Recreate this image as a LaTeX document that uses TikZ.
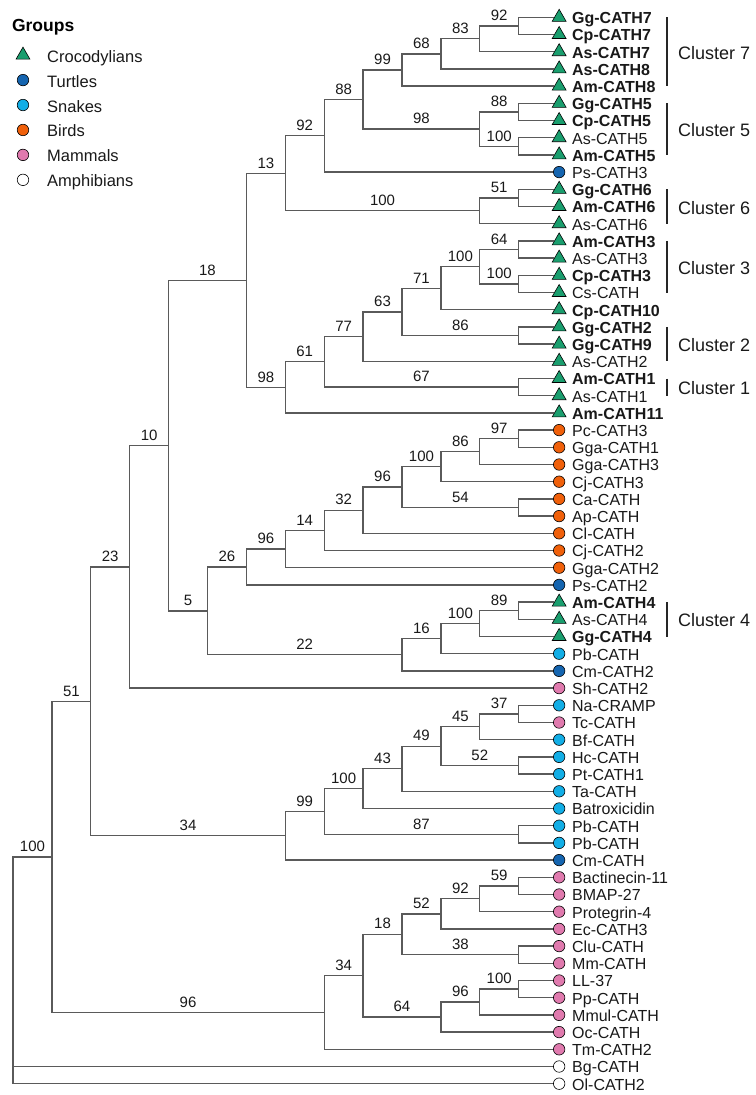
\documentclass[tikz,border=0pt]{standalone}
\usepackage{fontspec}
\setmainfont{Liberation Sans}
\usepackage{xcolor}
\usepackage{tikz}
\usetikzlibrary{positioning, shapes.geometric}

\definecolor{crocgreen}{HTML}{1A9E6E}
\definecolor{turtblue}{HTML}{1565B0}
\definecolor{snakeblue}{HTML}{12AEE6}
\definecolor{birdorange}{HTML}{F0600A}
\definecolor{mammpink}{HTML}{E07AAE}
\definecolor{treegray}{HTML}{5A5A5A}

\begin{document}
\begin{tikzpicture}[
    x=38.9pt, y=-17.2pt,
    branch/.style={draw=treegray, line width=1.3pt},
    boot/.style={pos=0.75, above=3pt, inner sep=1.5pt, text=black!90, font=\fontsize{15}{17}\selectfont},
    grpcroc/.style={regular polygon, regular polygon sides=3, draw=black, line width=0.6pt, fill=crocgreen, minimum size=16pt, inner sep=0pt},
    leafdot/.style={circle, draw=black, line width=0.6pt, minimum size=11.5pt, inner sep=0pt},
    grpturt/.style={leafdot, fill=turtblue},
    grpsnake/.style={leafdot, fill=snakeblue},
    grpbird/.style={leafdot, fill=birdorange},
    grpmamm/.style={leafdot, fill=mammpink},
    grpamph/.style={leafdot, fill=white},
    tipbold/.style={anchor=base west, inner sep=0pt, yshift=-6.3pt, text=black!90, font=\fontsize{16}{18}\selectfont\bfseries},
    tipplain/.style={anchor=base west, inner sep=0pt, yshift=-6.3pt, text=black!90, font=\fontsize{16}{18}\selectfont},
    clusbar/.style={draw=black!85, line width=1.3pt},
    clus/.style={anchor=base west, inner sep=0pt, yshift=-7.5pt, text=black!90, font=\fontsize{18}{20}\selectfont},
    legtext/.style={anchor=base west, inner sep=0pt, yshift=-7pt, text=black!90, font=\fontsize{16.5}{18}\selectfont}
]
\useasboundingbox (-0.334,-0.006) rectangle (19.100,63.657);

% legend
\node[anchor=base west, inner sep=0pt, font=\fontsize{17.5}{19}\selectfont\bfseries] (groups) at (-0.03,1.843) {Groups};
\foreach \grp/\txt [count=\k] in {grpcroc/Crocodylians, grpturt/Turtles, grpsnake/Snakes,
    grpbird/Birds, grpmamm/Mammals, grpamph/Amphibians} {
  \node[\grp] (leg\k) at (0.257,{1.75+1.45*\k}) {};
  \node[legtext] (legt\k) at (0.874,{1.75+1.45*\k}) {\txt};
}

% leaves
\foreach \lab/\grp/\wt [count=\i] in {
    Gg-CATH7/grpcroc/bold, Cp-CATH7/grpcroc/bold, As-CATH7/grpcroc/bold, As-CATH8/grpcroc/bold,
    Am-CATH8/grpcroc/bold, Gg-CATH5/grpcroc/bold, Cp-CATH5/grpcroc/bold, As-CATH5/grpcroc/plain,
    Am-CATH5/grpcroc/bold, Ps-CATH3/grpturt/plain, Gg-CATH6/grpcroc/bold, Am-CATH6/grpcroc/bold,
    As-CATH6/grpcroc/plain, Am-CATH3/grpcroc/bold, As-CATH3/grpcroc/plain, Cp-CATH3/grpcroc/bold,
    Cs-CATH/grpcroc/plain, Cp-CATH10/grpcroc/bold, Gg-CATH2/grpcroc/bold, Gg-CATH9/grpcroc/bold,
    As-CATH2/grpcroc/plain, Am-CATH1/grpcroc/bold, As-CATH1/grpcroc/plain, Am-CATH11/grpcroc/bold,
    Pc-CATH3/grpbird/plain, Gga-CATH1/grpbird/plain, Gga-CATH3/grpbird/plain, Cj-CATH3/grpbird/plain,
    Ca-CATH/grpbird/plain, Ap-CATH/grpbird/plain, Cl-CATH/grpbird/plain, Cj-CATH2/grpbird/plain,
    Gga-CATH2/grpbird/plain, Ps-CATH2/grpturt/plain, Am-CATH4/grpcroc/bold, As-CATH4/grpcroc/plain,
    Gg-CATH4/grpcroc/bold, Pb-CATH/grpsnake/plain, Cm-CATH2/grpturt/plain, Sh-CATH2/grpmamm/plain,
    Na-CRAMP/grpsnake/plain, Tc-CATH/grpmamm/plain, Bf-CATH/grpsnake/plain, Hc-CATH/grpsnake/plain,
    Pt-CATH1/grpsnake/plain, Ta-CATH/grpsnake/plain, Batroxicidin/grpsnake/plain, Pb-CATH/grpsnake/plain,
    Pb-CATH/grpsnake/plain, Cm-CATH/grpturt/plain, Bactinecin-11/grpmamm/plain, BMAP-27/grpmamm/plain,
    Protegrin-4/grpmamm/plain, Ec-CATH3/grpmamm/plain, Clu-CATH/grpmamm/plain, Mm-CATH/grpmamm/plain,
    LL-37/grpmamm/plain, Pp-CATH/grpmamm/plain, Mmul-CATH/grpmamm/plain, Oc-CATH/grpmamm/plain,
    Tm-CATH2/grpmamm/plain, Bg-CATH/grpamph/plain, Ol-CATH2/grpamph/plain} {
  \node[\grp] (t\i) at (14.04,\i) {};
  \node[tip\wt] (lab\i) at (14.37,\i) {\lab};
}

% internal nodes: (depth, row)
\coordinate (root) at (0,56.4);
\coordinate (n100) at (1,49.814);
\coordinate (n51) at (2,40.768);
\coordinate (n23) at (3,32.951);
\coordinate (n10) at (4,25.901);
\coordinate (n5) at (5,35.510);
\coordinate (c18) at (6,16.293);
\coordinate (c13) at (7,10.070);
\coordinate (c92) at (8,7.891);
\coordinate (c88) at (9,5.781);
\coordinate (c99) at (10,4.063);
\coordinate (c68) at (11,3.125);
\coordinate (c83) at (12,2.25);
\coordinate (c92a) at (13,1.5);
\coordinate (c98b) at (12,7.5);
\coordinate (c88b) at (13,6.5);
\coordinate (c100b) at (13,8.5);
\coordinate (c100a) at (12,12.25);
\coordinate (c51) at (13,11.5);
\coordinate (c98) at (7,22.516);
\coordinate (c61) at (8,21.031);
\coordinate (c77) at (9,19.563);
\coordinate (c63) at (10,18.125);
\coordinate (c71) at (11,16.75);
\coordinate (c100c) at (12,15.5);
\coordinate (c64) at (13,14.5);
\coordinate (c100d) at (13,16.5);
\coordinate (c86) at (13,19.5);
\coordinate (c67) at (13,22.5);
\coordinate (b26) at (6,32.957);
\coordinate (b96a) at (7,31.914);
\coordinate (b14) at (8,30.828);
\coordinate (b32) at (9,29.656);
\coordinate (b96) at (10,28.313);
\coordinate (b100) at (11,27.125);
\coordinate (b86) at (12,26.25);
\coordinate (b97) at (13,25.5);
\coordinate (b54) at (13,29.5);
\coordinate (k22) at (10,38.063);
\coordinate (k16) at (11,37.125);
\coordinate (k100) at (12,36.25);
\coordinate (k89) at (13,35.5);
\coordinate (n34) at (7,48.586);
\coordinate (s99) at (8,47.172);
\coordinate (s100) at (9,45.844);
\coordinate (s43) at (10,44.688);
\coordinate (s49) at (11,43.375);
\coordinate (s45) at (12,42.25);
\coordinate (s37) at (13,41.5);
\coordinate (s52) at (13,44.5);
\coordinate (s87) at (13,48.5);
\coordinate (m96a) at (8,58.859);
\coordinate (m34) at (9,56.719);
\coordinate (m18) at (10,54.313);
\coordinate (m52) at (11,53.125);
\coordinate (m92) at (12,52.25);
\coordinate (m59) at (13,51.5);
\coordinate (m38) at (13,55.5);
\coordinate (m64) at (11,59.125);
\coordinate (m96) at (12,58.25);
\coordinate (m100) at (13,57.5);

% branches
\draw[branch] (root) |- (n100) node[boot] {100} (root) |- (t62) (root) |- (t63);
\draw[branch] (n100) |- (n51) node[boot] {51} (n100) |- (m96a) node[boot] {96};
\draw[branch] (n51) |- (n23) node[boot] {23} (n51) |- (n34) node[boot] {34};
\draw[branch] (n23) |- (n10) node[boot] {10} (n23) |- (t40);
\draw[branch] (n10) |- (c18) node[boot] {18} (n10) |- (n5) node[boot] {5};
\draw[branch] (c18) |- (c13) node[boot] {13} (c18) |- (c98) node[boot] {98};
\draw[branch] (c13) |- (c92) node[boot] {92} (c13) |- (c100a) node[boot] {100};
\draw[branch] (c92) |- (c88) node[boot] {88} (c92) |- (t10);
\draw[branch] (c88) |- (c99) node[boot] {99} (c88) |- (c98b) node[boot] {98};
\draw[branch] (c99) |- (c68) node[boot] {68} (c99) |- (t5);
\draw[branch] (c68) |- (c83) node[boot] {83} (c68) |- (t4);
\draw[branch] (c83) |- (c92a) node[boot] {92} (c83) |- (t3);
\draw[branch] (c92a) |- (t1) (c92a) |- (t2);
\draw[branch] (c98b) |- (c88b) node[boot] {88} (c98b) |- (c100b) node[boot] {100};
\draw[branch] (c88b) |- (t6) (c88b) |- (t7);
\draw[branch] (c100b) |- (t8) (c100b) |- (t9);
\draw[branch] (c100a) |- (c51) node[boot] {51} (c100a) |- (t13);
\draw[branch] (c51) |- (t11) (c51) |- (t12);
\draw[branch] (c98) |- (c61) node[boot] {61} (c98) |- (t24);
\draw[branch] (c61) |- (c77) node[boot] {77} (c61) |- (c67) node[boot] {67};
\draw[branch] (c77) |- (c63) node[boot] {63} (c77) |- (t21);
\draw[branch] (c63) |- (c71) node[boot] {71} (c63) |- (c86) node[boot] {86};
\draw[branch] (c71) |- (c100c) node[boot] {100} (c71) |- (t18);
\draw[branch] (c100c) |- (c64) node[boot] {64} (c100c) |- (c100d) node[boot] {100};
\draw[branch] (c64) |- (t14) (c64) |- (t15);
\draw[branch] (c100d) |- (t16) (c100d) |- (t17);
\draw[branch] (c86) |- (t19) (c86) |- (t20);
\draw[branch] (c67) |- (t22) (c67) |- (t23);
\draw[branch] (n5) |- (b26) node[boot] {26} (n5) |- (k22) node[boot] {22};
\draw[branch] (b26) |- (b96a) node[boot] {96} (b26) |- (t34);
\draw[branch] (b96a) |- (b14) node[boot] {14} (b96a) |- (t33);
\draw[branch] (b14) |- (b32) node[boot] {32} (b14) |- (t32);
\draw[branch] (b32) |- (b96) node[boot] {96} (b32) |- (t31);
\draw[branch] (b96) |- (b100) node[boot] {100} (b96) |- (b54) node[boot] {54};
\draw[branch] (b100) |- (b86) node[boot] {86} (b100) |- (t28);
\draw[branch] (b86) |- (b97) node[boot] {97} (b86) |- (t27);
\draw[branch] (b97) |- (t25) (b97) |- (t26);
\draw[branch] (b54) |- (t29) (b54) |- (t30);
\draw[branch] (k22) |- (k16) node[boot] {16} (k22) |- (t39);
\draw[branch] (k16) |- (k100) node[boot] {100} (k16) |- (t38);
\draw[branch] (k100) |- (k89) node[boot] {89} (k100) |- (t37);
\draw[branch] (k89) |- (t35) (k89) |- (t36);
\draw[branch] (n34) |- (s99) node[boot] {99} (n34) |- (t50);
\draw[branch] (s99) |- (s100) node[boot] {100} (s99) |- (s87) node[boot] {87};
\draw[branch] (s100) |- (s43) node[boot] {43} (s100) |- (t47);
\draw[branch] (s43) |- (s49) node[boot] {49} (s43) |- (t46);
\draw[branch] (s49) |- (s45) node[boot] {45} (s49) |- (s52) node[boot] {52};
\draw[branch] (s45) |- (s37) node[boot] {37} (s45) |- (t43);
\draw[branch] (s37) |- (t41) (s37) |- (t42);
\draw[branch] (s52) |- (t44) (s52) |- (t45);
\draw[branch] (s87) |- (t48) (s87) |- (t49);
\draw[branch] (m96a) |- (m34) node[boot] {34} (m96a) |- (t61);
\draw[branch] (m34) |- (m18) node[boot] {18} (m34) |- (m64) node[boot] {64};
\draw[branch] (m18) |- (m52) node[boot] {52} (m18) |- (m38) node[boot] {38};
\draw[branch] (m52) |- (m92) node[boot] {92} (m52) |- (t54);
\draw[branch] (m92) |- (m59) node[boot] {59} (m92) |- (t53);
\draw[branch] (m59) |- (t51) (m59) |- (t52);
\draw[branch] (m38) |- (t55) (m38) |- (t56);
\draw[branch] (m64) |- (m96) node[boot] {96} (m64) |- (t60);
\draw[branch] (m96) |- (m100) node[boot] {100} (m96) |- (t59);
\draw[branch] (m100) |- (t57) (m100) |- (t58);

% clusters
\foreach \k/\a/\b in {7/1/5, 5/6/9, 6/11/13, 3/14/17, 2/19/21, 1/22/23, 4/35/37} {
  \draw[clusbar] (16.81,\a) -- (16.81,\b);
  \node[clus] (cl\k) at (17.095,{(\a+\b)/2}) {Cluster \k};
}
\end{tikzpicture}
\end{document}
